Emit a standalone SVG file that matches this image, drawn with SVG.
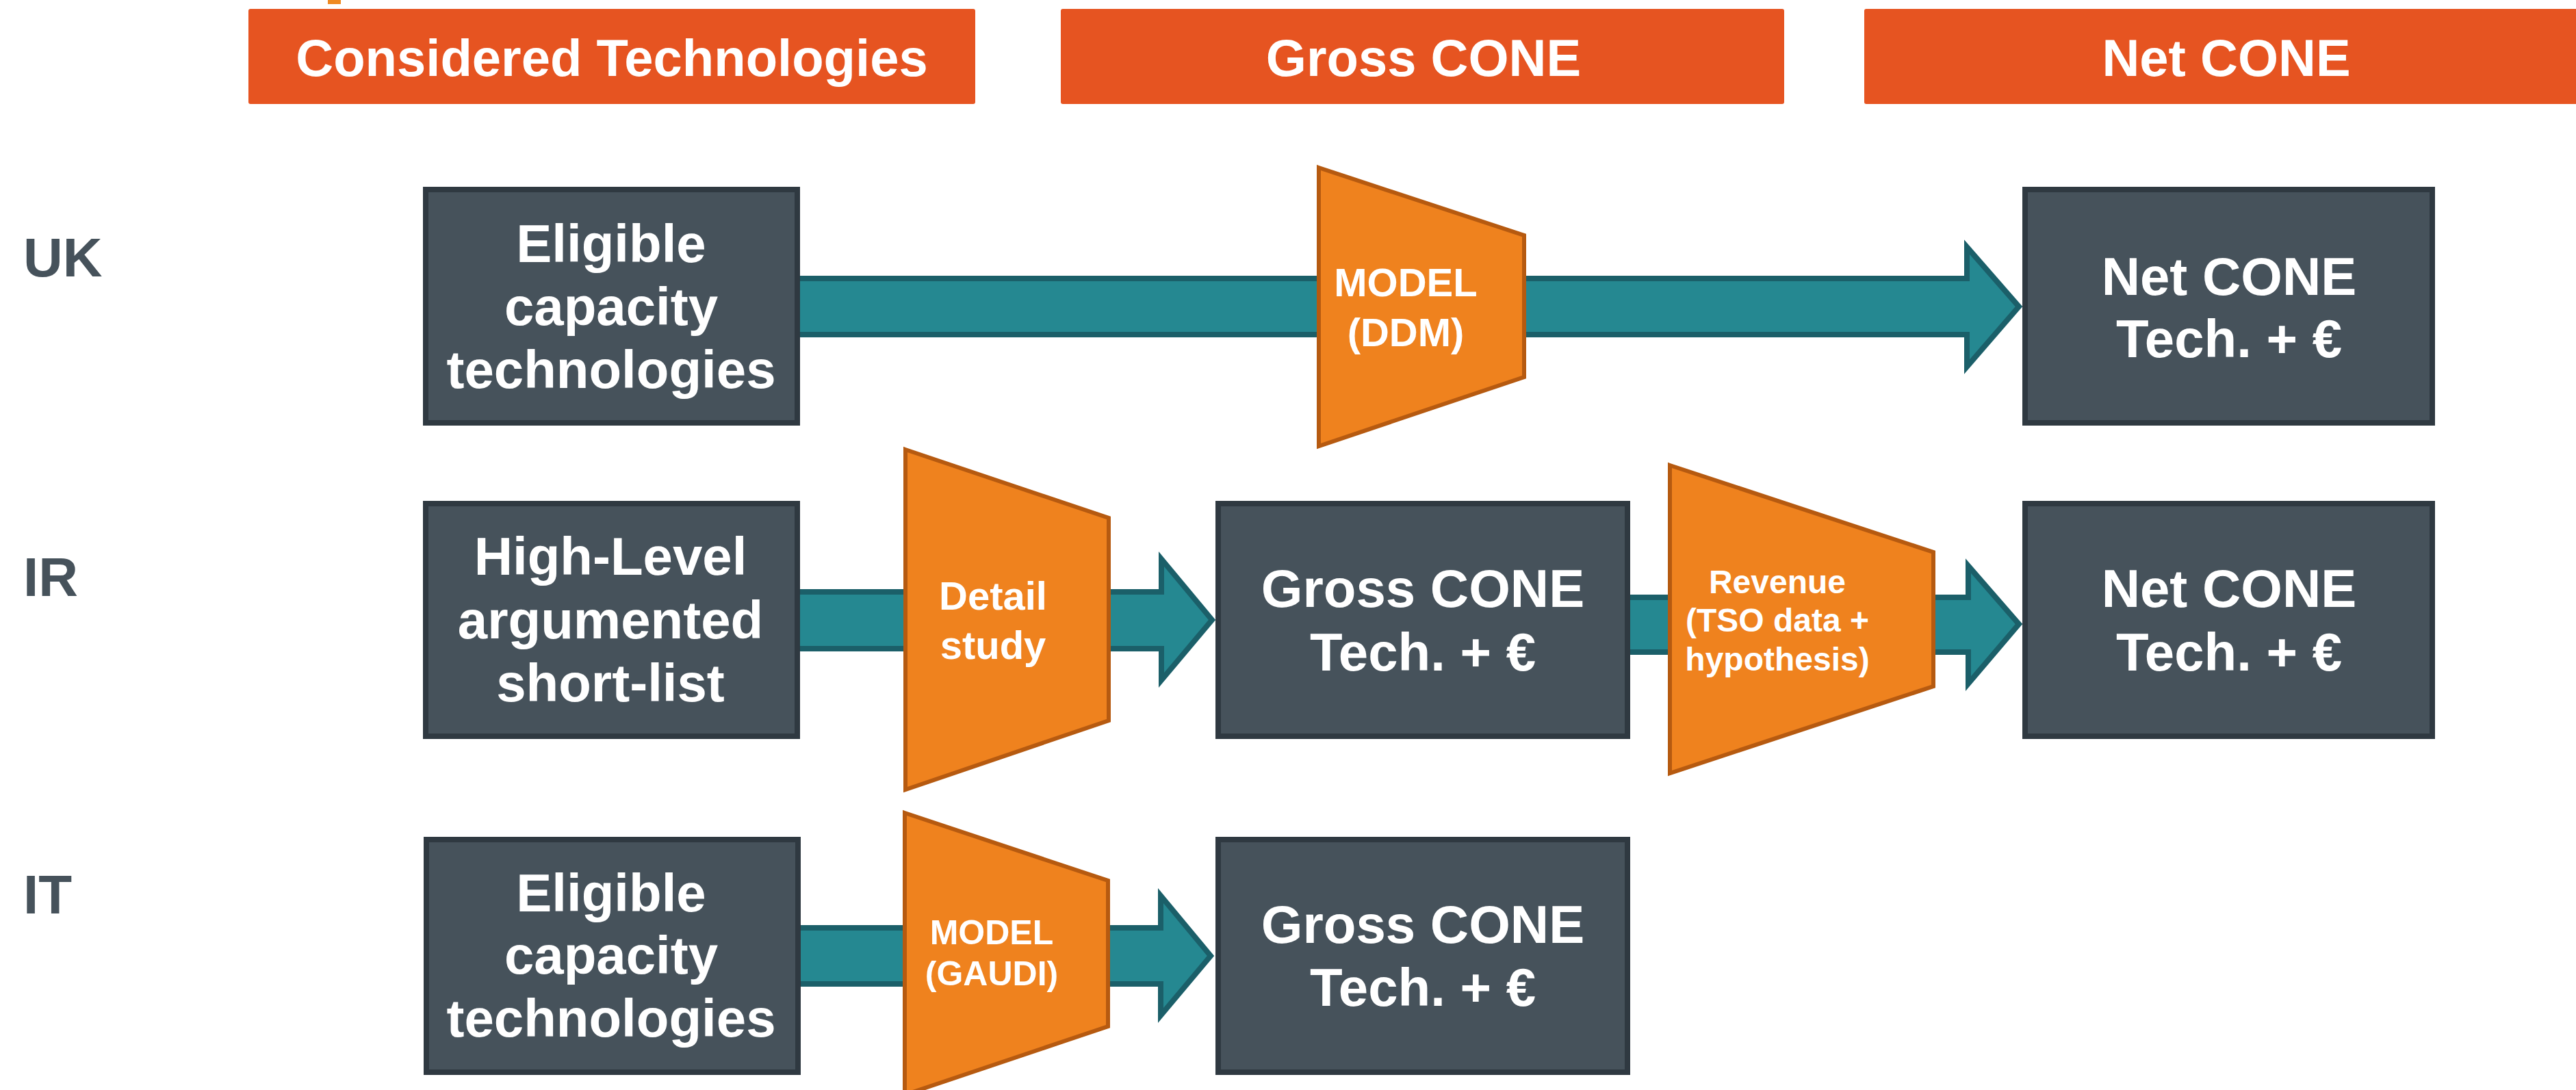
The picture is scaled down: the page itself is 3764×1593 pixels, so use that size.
<svg xmlns="http://www.w3.org/2000/svg" width="3764" height="1593" viewBox="0 0 3764 1593">
  <style>
    .hdr { fill: #e65421; }
    .hdr-t { font-family: "Liberation Sans", Arial, sans-serif; font-weight: bold; font-size: 76px; fill: #ffffff; text-anchor: middle; }
    .row-t { font-family: "Liberation Sans", Arial, sans-serif; font-weight: bold; font-size: 80px; fill: #46525b; }
    .box { fill: #46525b; stroke: #2f3941; stroke-width: 8; }
    .box-t { font-family: "Liberation Sans", Arial, sans-serif; font-weight: bold; font-size: 78px; fill: #ffffff; text-anchor: middle; }
    .trap { fill: #ef821e; stroke: #b65a10; stroke-width: 6; stroke-linejoin: miter; }
    .trap-t { font-family: "Liberation Sans", Arial, sans-serif; font-weight: bold; fill: #ffffff; text-anchor: middle; }
    .flow { fill: #258891; stroke: #1b5f69; stroke-width: 8; stroke-linejoin: miter; }
  </style>

  <!-- small orange mark at the top edge -->
  <rect x="479" y="0" width="19" height="6" fill="#ef8a22"/>

  <!-- column headers -->
  <g id="header-technologies">
    <rect class="hdr" x="363" y="13" width="1062" height="139" rx="3"/>
    <text class="hdr-t" x="894" y="111">Considered Technologies</text>
  </g>
  <g id="header-gross">
    <rect class="hdr" x="1550" y="13" width="1057" height="139" rx="3"/>
    <text class="hdr-t" x="2080" y="111">Gross CONE</text>
  </g>
  <g id="header-net">
    <rect class="hdr" x="2724" y="13" width="1060" height="139" rx="3"/>
    <text class="hdr-t" x="3253" y="111">Net CONE</text>
  </g>

  <!-- row labels -->
  <g id="row-labels">
    <text class="row-t" x="34" y="404">UK</text>
    <text class="row-t" x="34" y="871">IR</text>
    <text class="row-t" x="34" y="1335">IT</text>
  </g>

  <!-- block arrows -->
  <g id="connectors">
    <polygon class="flow" points="1150,407 2874,407 2874,361 2950,448 2874,536 2874,489 1150,489"/>
    <polygon class="flow" points="1150,865 1697,865 1697,817 1771,906 1697,994 1697,948 1150,948"/>
    <polygon class="flow" points="2360,873 2876,873 2876,827 2950,912 2876,999 2876,953 2360,953"/>
    <polygon class="flow" points="1150,1356 1696,1356 1696,1309 1769,1397 1696,1484 1696,1438 1150,1438"/>
  </g>

  <!-- UK row -->
  <g id="uk-eligible">
    <rect class="box" x="622" y="277" width="543" height="341"/>
    <text class="box-t" x="893" y="383">Eligible</text>
    <text class="box-t" x="893" y="475">capacity</text>
    <text class="box-t" x="893" y="567">technologies</text>
  </g>
  <g id="uk-model">
    <polygon class="trap" points="1927,245 2227,344 2227,551 1927,652"/>
    <text class="trap-t" font-size="58" x="2054" y="433">MODEL</text>
    <text class="trap-t" font-size="58" x="2054" y="506">(DDM)</text>
  </g>
  <g id="uk-net">
    <rect class="box" x="2959" y="277" width="595" height="341"/>
    <text class="box-t" x="3257" y="431">Net CONE</text>
    <text class="box-t" x="3257" y="522">Tech. + €</text>
  </g>

  <!-- IR row -->
  <g id="ir-shortlist">
    <rect class="box" x="622" y="736" width="543" height="340"/>
    <text class="box-t" x="892" y="840">High-Level</text>
    <text class="box-t" x="892" y="933">argumented</text>
    <text class="box-t" x="892" y="1025">short-list</text>
  </g>
  <g id="ir-detail">
    <polygon class="trap" points="1323,657 1620,757 1620,1053 1323,1154"/>
    <text class="trap-t" font-size="58" x="1451" y="891">Detail</text>
    <text class="trap-t" font-size="58" x="1451" y="963">study</text>
  </g>
  <g id="ir-gross">
    <rect class="box" x="1780" y="736" width="598" height="340"/>
    <text class="box-t" x="2079" y="887">Gross CONE</text>
    <text class="box-t" x="2079" y="980">Tech. + €</text>
  </g>
  <g id="ir-revenue">
    <polygon class="trap" points="2440,680 2825,807 2825,1003 2440,1130"/>
    <text class="trap-t" font-size="48" x="2597" y="867">Revenue</text>
    <text class="trap-t" font-size="48" x="2597" y="923">(TSO data +</text>
    <text class="trap-t" font-size="48" x="2597" y="980">hypothesis)</text>
  </g>
  <g id="ir-net">
    <rect class="box" x="2959" y="736" width="595" height="340"/>
    <text class="box-t" x="3257" y="887">Net CONE</text>
    <text class="box-t" x="3257" y="980">Tech. + €</text>
  </g>

  <!-- IT row -->
  <g id="it-eligible">
    <rect class="box" x="623" y="1227" width="543" height="340"/>
    <text class="box-t" x="893" y="1332">Eligible</text>
    <text class="box-t" x="893" y="1423">capacity</text>
    <text class="box-t" x="893" y="1515">technologies</text>
  </g>
  <g id="it-model">
    <polygon class="trap" points="1322,1188 1619,1287 1619,1500 1322,1600"/>
    <text class="trap-t" font-size="50" x="1449" y="1380">MODEL</text>
    <text class="trap-t" font-size="50" x="1449" y="1440">(GAUDI)</text>
  </g>
  <g id="it-gross">
    <rect class="box" x="1780" y="1227" width="598" height="340"/>
    <text class="box-t" x="2079" y="1378">Gross CONE</text>
    <text class="box-t" x="2079" y="1470">Tech. + €</text>
  </g>
</svg>
